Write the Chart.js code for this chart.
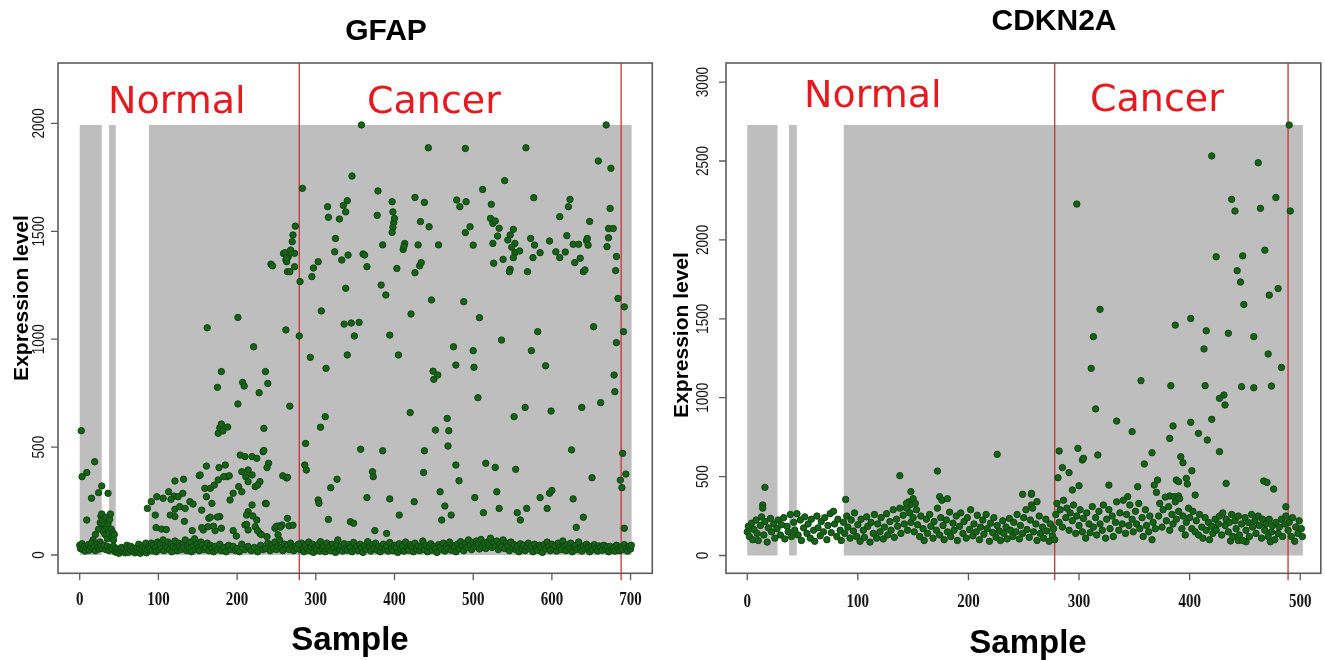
<!DOCTYPE html>
<html><head><meta charset="utf-8">
<script src="https://cdn.jsdelivr.net/npm/chart.js@4.4.0/dist/chart.umd.min.js"></script>
<style>
html,body{margin:0;padding:0;background:#fff;width:1325px;height:660px;overflow:hidden}
#c1{position:absolute;left:0;top:0}
#c2{position:absolute;left:662px;top:0}
</style></head><body>
<canvas id="c1" width="662" height="660"></canvas>
<canvas id="c2" width="663" height="660"></canvas>
<script>
// ---------- labels / ticks ----------
const gfapTitle = 'GFAP';
const cdknTitle = 'CDKN2A';
const groupNames = ['Normal', 'Cancer'];
const xAxisTitle = 'Sample';
const yAxisTitle = 'Expression level';
const gfapXTicks = [0,100,200,300,400,500,600,700];
const gfapYTicks = [0,500,1000,1500,2000];
const cdknXTicks = [0,100,200,300,400,500];
const cdknYTicks = [0,500,1000,1500,2000,2500,3000];
// grey sample blocks (start, end sample) and red group dividers (sample)
const gfapBlocks = [[0,28],[37.3,45.8],[87.9,701.3]];
const cdknBlocks = [[0,27.4],[37.8,44.8],[87.3,502.4]];
const gfapDividers = [279, 688];
const cdknDividers = [278, 489];

// ---------- GFAP values [sample, level] ----------
const gfapNormalBand = [
[0,45],[1,30],[3,52],[4,25],[6,40],[7,18],[9,35],[11,48],[12,22],[14,38],[15,55],[17,30],[19,42],[20,20],[22,50],[23,35],[25,28],[26,60],[27,40],
[29,30],[31,45],[33,25],[35,40],[37,20],[39,35],[41,28],[43,40],[45,15],
[46,30],[47,12],[49,25],[50,8],[52,20],[53,35],[55,15],[56,28],[58,10],[59,22],[60,45],[61,30],[62,12],[64,25],[65,40],[67,18],[68,30],[70,10],[71,25],[73,35],[74,15],[75,50],[76,28],[77,8],[79,20],[80,38],[82,15],[83,30],[84,55],[85,10],[86,25],[88,40],
[89,30],[91,55],[92,20],[94,45],[96,35],[97,15],[99,60],[101,25],[102,50],[104,30],[106,70],[107,20],[109,45],[111,35],[112,60],[114,25],[116,50],[117,15],[119,40],[121,65],[122,30],[124,20],[126,55],[127,40],[129,25],[131,50],[132,35],[134,70],[136,20],[137,45],[139,30],[141,60],[142,15],[144,40],[146,75],[147,25],[149,50],[151,35],[152,20],[154,60],[156,45],[158,25],[160,35],[162,55],[164,20],[166,45],[168,30],[170,15],[172,40],[175,25],[178,50],[180,20],[183,35],[186,15],[189,45],[192,25],[195,40],[198,20],[200,30],[203,15],[206,50],[210,25],[214,40],[218,20],[222,35],[226,15],[230,45],[233,25],[236,30],[239,55],[242,20],[244,45],[246,30],[248,60],[250,25],[252,40],[254,70],[256,35],[258,20],[260,50],[262,30],[264,45],[266,25],[268,55],[270,35],[272,20],[274,40],[276,30],[278,50]
];
const gfapNormalHigh = [
[2,576],[3,363],[9,382],[19,432],[15,263],[24,289],[28,320],[36,286],[9,162],
[24,120],[26,150],[27,180],[28,190],[29,160],[30,110],[31,140],[32,95],[33,175],[34,130],[35,75],[36,145],[37,100],[38,165],[39,190],[40,120],[41,85],[42,105],[43,70],[44,95],[20,95],[17,70],
[161,412],[177,405],[185,417],[187,363],[204,463],[210,456],[214,394],[219,456],[225,448],[233,479],[240,425],[238,405],
[206,386],[211,363],[219,371],[223,317],[229,340],[226,324],[214,340],[121,343],[132,351],
[152,368],[159,309],[166,309],[171,324],[176,348],[183,363],
[113,293],[120,273],[125,270],[131,286],[116,258],[121,212],[127,224],[134,216],[140,247],[144,236],
[86,216],[91,247],[98,270],[106,263],[96,185],[115,185],[121,178],
[155,208],[161,270],[164,170],[168,239],[178,178],[191,255],[195,286],[202,317],[206,293],[214,201],[212,185],[219,232],[225,162],[236,239],
[157,116],[163,131],[172,113],[180,124],[199,88],[210,139],[214,116],[223,131],[229,100],[238,85],[248,124],[252,134],[257,139],[264,170],
[97,127],[104,120],[110,118],[133,156],[143,113],[155,127],[166,175],[170,133],[175,176],[195,113],[212,142],[220,181],[226,113],[231,94],[250,133],[252,94],[255,129],[258,367],[263,357],[266,135],[271,138],[264,360],[234,484],[190,367],[153,371],[237,238],
[162,1053],[175,777],[180,850],[176,564],[178,590],[180,607],[182,575],[188,593],[201,1101],[201,700],[207,800],[209,783],[221,965],[228,752],[234,587],[236,850],[239,795],[243,1348],[245,1340],[259,1397],[262,1043],[262,1367],[264,1313],[263,1359],[265,1382],[267,690],[267,1313],[268,1413],[270,1452],[271,1483],[273,1398],[273,1336],[274,1524],[261,1401],[263,1377]
];
const gfapCancerBand = [
[279,40],[280,25],[282,55],[284,30],[285,15],[287,45],[289,28],[291,60],[292,20],[294,38],[296,50],[297,12],[299,35],[301,25],[303,48],[305,18],[306,62],[308,30],[310,42],[312,15],[314,55],[315,28],[317,38],[319,20],[321,50],[323,32],[325,12],[327,45],[328,70],[330,25],[332,40],[334,18],[336,52],[338,30],[340,22],[342,48],[344,35],[346,15],[348,58],[350,28],[352,40],[354,20],[356,50],[358,32],[360,12],[362,44],[364,26],[366,62],[368,38],[370,18],[372,48],[374,30],[376,55],[378,22],[380,40],[382,15],[384,35],[386,50],[388,25],[390,42],[392,18],[394,58],[396,30],[398,20],[400,45],[402,35],[404,12],[406,52],[408,28],[410,40],[412,18],[414,60],[416,32],[418,22],[420,48],[422,38],[424,15],[426,55],[428,28],[430,42],[432,20],[434,35],[436,65],[438,25],[440,45],[442,15],[444,38],[446,52],[448,22],[450,40],[452,30],[454,12],[456,48],[458,35],[460,25],[462,55],[464,18],[466,42],[468,30],[470,60],[472,22],[474,45],[476,35],[478,15],[480,50],[482,28],[484,62],[486,40],[488,20],[490,55],[492,35],[494,70],[496,45],[498,25],[500,58],[502,38],[504,65],[506,48],[508,28],[510,72],[512,42],[514,55],[516,30],[518,60],[520,45],[522,78],[524,35],[526,58],[528,40],[530,65],[532,25],[534,50],[536,38],[538,70],[540,30],[542,55],[544,42],[546,20],[548,60],[550,35],[552,48],[554,25],[556,40],[558,15],[560,52],[562,30],[564,45],[566,20],[568,38],[570,55],[572,28],[574,42],[576,15],[578,50],[580,32],[582,22],[584,45],[586,35],[588,12],[590,48],[592,28],[594,60],[596,38],[598,20],[600,50],[602,30],[604,42],[606,18],[608,55],[610,35],[612,25],[614,65],[616,40],[618,20],[620,48],[622,30],[624,55],[626,15],[628,38],[630,45],[632,25],[634,60],[636,32],[638,18],[640,42],[642,28],[644,50],[646,35],[648,15],[650,40],[652,25],[654,48],[656,30],[658,18],[660,42],[662,35],[664,22],[666,45],[668,28],[670,38],[672,15],[674,40],[676,25],[678,32],[680,18],[682,45],[684,30],[686,20],[688,38],[690,25],[692,48],[694,30],[696,18],[698,40],[700,28],[701,45]
];
const gfapCancerHigh = [
[280,1267],[283,1699],[279,1015],[295,1290],[297,1330],[303,1359],[293,916],[307,1131],[313,865],[312,641],[306,592],[287,517],[286,417],[288,394],
[315,1614],[316,1565],[330,1557],[335,1620],[340,1642],[338,1590],[325,1467],[324,1405],[333,1367],[341,1390],[346,1756],[358,1993],[338,1236],[336,1070],[345,1075],[355,1078],[349,1015],[340,927],[360,1395],[362,1390],[365,1336],
[379,1687],[378,1574],[397,1637],[398,1590],[399,1540],[398,1518],[397,1495],[400,1560],[385,1437],[383,1251],[389,1205],[394,1019],[405,927],[403,1328],[411,1416],[413,1444],[412,1430],
[426,1657],[438,1634],[433,1545],[444,1521],[430,1437],[426,1308],[432,1340],[434,1355],[421,1117],[447,1182],[443,1887],[456,1437],[420,660],
[357,490],[385,483],[372,386],[373,363],[365,266],[394,260],[406,185],[425,247],[437,382],[438,483],[375,113],[390,100],
[303,255],[304,240],[319,312],[327,351],[316,165],[344,154],[348,147],
[449,852],[450,814],[455,834],[467,633],[452,579],[469,576],[468,505],[478,417],[482,344],[458,293],[464,227],[472,185],[460,162],[475,965],[478,880],[488,1174],[479,1645],[483,1614],[490,1884],[490,1494],
[567,1887],[669,1993],[659,1826],[675,1792],[540,1735],[512,1694],[577,1656],[623,1648],[621,1614],[674,1606],[491,1637],[523,1625],[522,1560],[525,1537],[528,1548],[496,1521],[533,1514],[531,1478],[551,1509],[547,1483],[544,1460],[553,1444],[610,1568],[648,1546],[672,1513],[678,1513],[500,1436],[525,1444],[538,1370],[526,1352],[549,1426],[553,1401],[551,1378],[559,1409],[547,1324],[546,1313],
[573,1467],[578,1436],[576,1378],[569,1313],[585,1401],[597,1455],[605,1405],[610,1378],[617,1404],[619,1480],[627,1440],[634,1440],[629,1355],[636,1375],[640,1313],[642,1321],[644,1457],[646,1436],[645,1467],[672,1470],[670,1429],[682,1383],[681,1318],
[508,1100],[536,996],[582,1035],[574,947],[500,947],[501,870],[592,877],[653,1058],[684,1189],[692,1150],[691,1035],[682,984],[679,834],[680,757],
[506,729],[552,641],[566,684],[599,667],[638,684],[662,706],[625,487],[690,471],[516,425],[528,406],[554,397],[651,358],[694,375],[687,347],[689,312],
[530,293],[597,286],[600,299],[585,266],[627,260],[502,266],[533,216],[568,216],[594,216],[513,196],[556,196],[560,162],[640,175],[631,128],[692,124]
];

// ---------- CDKN2A values [sample, level] ----------
const cdknNormalBand = [
[0,150],[1,185],[2,120],[4,205],[5,100],[6,165],[8,225],[9,140],[10,95],[12,190],[13,245],[15,130],[16,215],[18,85],[19,175],[21,235],[22,150],[24,200],[25,110],[27,170],[28,225],[30,130],[31,195],[33,240],[34,105],[36,185],[37,150],[39,260],[40,120],[42,210],[43,160],[45,265],[46,130],[48,225],[49,95],[51,175],[52,245],[54,140],[55,200],[57,110],[58,230],[60,160],[61,90],[63,250],[64,175],[66,125],[67,215],[69,150],[70,240],[72,100],[73,190],[75,265],[76,145],[78,280],[79,200],[81,120],[82,230],[84,160],[85,95],[87,210],[88,140],
[90,250],[91,180],[93,110],[94,225],[96,155],[97,270],[99,120],[100,195],[102,90],[103,230],[105,160],[106,115],[108,245],[109,185],[111,85],[112,210],[114,140],[115,260],[117,110],[118,200],[120,150],[121,240],[123,105],[124,180],[126,265],[127,130],[129,215],[130,160],[132,290],[133,115],[135,230],[136,185],[138,300],[139,140],[141,255],[142,200],[144,330],[145,160],[147,270],[148,210],[150,240],[151,150],[153,290],[154,195],[156,120],[157,250],[159,170],[160,95],[162,230],[163,140],[165,260],[166,185],[168,110],[169,215],[171,160],[172,300],[174,130],[175,240],[177,190],[178,100],[180,225],[181,150],[183,275],[184,120],[186,205],[187,160],[189,250],[190,95],[192,185],[193,270],[195,140],[196,215],[198,110],[199,240],[201,165],[202,290],[204,125],[205,200],[207,150],[208,255],[210,100],[211,180],[213,225],[214,135],[216,260],[217,170],[219,90],[220,205],[222,145],[223,240],[225,115],[226,190],[228,155],[229,95],[231,220],[232,140],[234,180],[235,105],[237,235],[238,160],[240,120],[241,210],[243,150],[244,260],[246,105],[247,190],[249,140],[250,240],[252,290],[253,165],[255,115],[256,225],[258,300],[259,150],[261,200],[262,95],[264,250],[265,140],[267,180],[268,110],[270,230],[271,155],[273,90],[274,200],[276,125],[277,170],[278,100]
];
const cdknNormalHigh = [
[16,432],[14,320],[14,300],[89,355],[138,506],[172,535],[226,641],[249,388],[257,388],[257,320],[148,405],[150,360],[146,340],[152,330],[174,373],[176,350],[181,360],[147,320],[144,300],[257,394],[262,341]
];
const cdknCancerBand = [
[279,260],[280,330],[282,210],[283,290],[285,180],[286,350],[288,240],[289,300],[291,160],[292,270],[294,220],[295,320],[297,140],[298,250],[300,190],[301,290],[303,150],[304,235],[306,110],[307,270],[309,200],[310,145],[312,310],[313,180],[315,240],[316,130],[318,280],[319,200],[321,160],[322,320],[324,110],[325,230],[327,290],[328,170],[330,250],[331,120],[333,210],[334,340],[336,160],[337,270],[339,200],[340,350],[342,140],[343,260],[345,190],[346,320],[348,230],[349,150],[351,280],[352,200],[354,330],[355,170],[357,240],[358,120],[360,290],[361,190],[363,150],[364,250],[366,100],[367,210],[369,170],[370,400],[372,250],[373,330],[375,180],[376,290],[378,370],[379,220],[381,310],[382,160],[384,260],[385,200],[387,340],[388,230],[390,280],[391,360],[393,170],[394,250],[396,130],[397,210],[399,300],[400,240],[402,170],[403,280],[405,150],[406,220],[408,130],[409,260],[411,180],[412,110],[414,240],[415,160],[417,210],[418,100],[420,185],[421,140],[423,230],[424,160],[426,200],[427,250],[429,130],[430,270],[432,190],[433,230],[435,150],[436,210],[438,260],[439,120],[441,220],[442,170],[444,250],[445,130],[447,200],[448,95],[450,240],[451,160],[453,210],[454,120],[456,260],[457,180],[459,220],[460,140],[462,250],[463,190],[465,110],[466,230],[468,160],[469,200],[471,120],[472,230],[474,150],[475,190],[477,100],[478,210],[480,140],[481,180],[483,230],[484,120],[486,200],[487,250],[489,160],[490,210],[492,120],[493,240],[495,90],[496,180],[498,140],[499,220],[501,170],[502,120]
];
const cdknCancerHigh = [
[298,2227],[319,1560],[313,1387],[311,1186],[315,929],[356,1108],[334,852],[348,785],[282,662],[299,679],[303,605],[304,616],[317,637],[366,651],[359,580],[285,557],[291,525],[281,493],[300,442],[294,415],[327,446],[353,436],[344,373],[371,478],[368,446],
[490,2728],[420,2532],[462,2489],[438,2257],[441,2183],[464,2200],[478,2269],[491,2183],[424,1893],[448,1899],[468,1935],[443,1805],[446,1733],[449,1591],[472,1650],[480,1692],
[387,1460],[401,1502],[415,1424],[435,1408],[458,1387],[413,1309],[471,1277],[483,1192],[383,1076],[414,1076],[447,1070],[458,1063],[474,1074],[427,996],[431,1017],[432,954],[420,863],[385,821],[382,742],[401,844],[408,774],[416,732],[427,658],[392,626],[394,588],[402,537],
[388,478],[390,468],[397,489],[398,453],[405,383],[433,457],[467,472],[470,463],[476,421],[382,377],[386,373],[390,377],[487,309],[437,92],[444,95],[451,87],[473,87]
];

// ---------- drawing ----------
function rPlot(p) {
  return {
    id: 'rPlot',
    beforeDatasetsDraw(chart) {
      const {ctx, chartArea: a, scales: {x, y}} = chart;
      ctx.save();
      ctx.fillStyle = '#bebebe';
      const t = y.getPixelForValue(p.blockTop), b = y.getPixelForValue(0);
      for (const [s, e] of p.blocks) {
        const l = x.getPixelForValue(s), r = x.getPixelForValue(e);
        ctx.fillRect(l, t, r - l, b - t);
      }
      ctx.strokeStyle = '#c83236';
      ctx.lineWidth = 1.3;
      for (const d of p.dividers) {
        const px = x.getPixelForValue(d);
        ctx.beginPath(); ctx.moveTo(px, a.top); ctx.lineTo(px, a.bottom + 7); ctx.stroke();
      }
      ctx.restore();
    },
    afterDatasetsDraw(chart) {
      const {ctx, chartArea: a, scales: {x, y}} = chart;
      ctx.save();
      ctx.strokeStyle = '#5c5c5c';
      ctx.lineWidth = 1.6;
      ctx.strokeRect(a.left, a.top, a.right - a.left, a.bottom - a.top);
      ctx.lineWidth = 1.3;
      ctx.beginPath();
      for (const v of p.xTicks) { const px = x.getPixelForValue(v); ctx.moveTo(px, a.bottom); ctx.lineTo(px, a.bottom + 7); }
      for (const v of p.yTicks) { const py = y.getPixelForValue(v); ctx.moveTo(a.left, py); ctx.lineTo(a.left - 7, py); }
      ctx.stroke();
      ctx.fillStyle = '#151515';
      ctx.textAlign = 'center'; ctx.textBaseline = 'middle';
      ctx.font = 'bold 15px "Liberation Serif"';
      for (const v of p.xTicks) {
        const px = x.getPixelForValue(v);
        ctx.save(); ctx.translate(px, p.xLabelY); ctx.scale(1, 1.3); ctx.fillText(String(v), 0, 0); ctx.restore();
      }
      ctx.font = '16px "Liberation Sans"';
      for (const v of p.yTicks) {
        const py = y.getPixelForValue(v);
        ctx.save(); ctx.translate(p.yLabelX, py); ctx.rotate(-Math.PI / 2); ctx.scale(0.85, 1); ctx.fillText(String(v), 0, 0); ctx.restore();
      }
      ctx.textBaseline = 'alphabetic';
      ctx.fillStyle = '#000';
      ctx.font = 'bold 30px "Liberation Sans"';
      ctx.fillText(p.title, p.titleX, p.titleY);
      ctx.font = 'bold 33px "Liberation Sans"';
      ctx.fillText(xAxisTitle, p.xTitleX, p.xTitleY);
      ctx.save();
      ctx.translate(p.yTitleX, p.yTitleY); ctx.rotate(-Math.PI / 2);
      ctx.font = 'bold 21px "Liberation Sans"';
      ctx.fillText(yAxisTitle, 0, 0);
      ctx.restore();
      ctx.fillStyle = '#e8191e';
      ctx.textAlign = 'left';
      ctx.font = '38px "DejaVu Sans"';
      ctx.fillText(groupNames[0], p.normalX, p.normalY);
      ctx.fillText(groupNames[1], p.cancerX, p.cancerY);
      ctx.restore();
    }
  };
}

function build(id, series, p) {
  const allY = series.flat().map(d => d[1]);
  p.blockTop = Math.max(...allY);
  return new Chart(document.getElementById(id), {
    type: 'scatter',
    data: {
      datasets: series.map(s => ({
        data: s.map(([sx, sy]) => ({x: sx, y: sy})),
        pointRadius: 3.2, pointHoverRadius: 3.2,
        backgroundColor: '#166317', borderColor: '#0e450f', borderWidth: 1
      }))
    },
    options: {
      responsive: false, animation: false, events: [],
      layout: {padding: p.pad},
      plugins: {legend: {display: false}, tooltip: {enabled: false}},
      scales: {
        x: {type: 'linear', min: p.xRange[0], max: p.xRange[1], display: false},
        y: {type: 'linear', min: p.yRange[0], max: p.yRange[1], display: false}
      }
    },
    plugins: [rPlot(p)]
  });
}

build('c1', [gfapNormalBand, gfapCancerBand, gfapNormalHigh, gfapCancerHigh], {
  title: gfapTitle, blocks: gfapBlocks, dividers: gfapDividers, xTicks: gfapXTicks, yTicks: gfapYTicks,
  pad: {left: 58, top: 63, right: 9.7, bottom: 86.7},
  xRange: [-27.6, 727.6], yRange: [-84.8, 2280],
  xLabelY: 600, yLabelX: 40, titleX: 386, titleY: 40,
  xTitleX: 350, xTitleY: 650, yTitleX: 28, yTitleY: 298,
  normalX: 108, normalY: 113, cancerX: 367, cancerY: 113
});
build('c2', [cdknNormalBand, cdknCancerBand, cdknNormalHigh, cdknCancerHigh], {
  title: cdknTitle, blocks: cdknBlocks, dividers: cdknDividers, xTicks: cdknXTicks, yTicks: cdknYTicks,
  pad: {left: 64, top: 63, right: 2, bottom: 86.7},
  xRange: [-19.2, 518.6], yRange: [-112.8, 3121],
  xLabelY: 602, yLabelX: 41.5, titleX: 392, titleY: 30,
  xTitleX: 366, xTitleY: 653, yTitleX: 26, yTitleY: 335,
  normalX: 142, normalY: 107, cancerX: 428, cancerY: 111
});
</script>
</body></html>
